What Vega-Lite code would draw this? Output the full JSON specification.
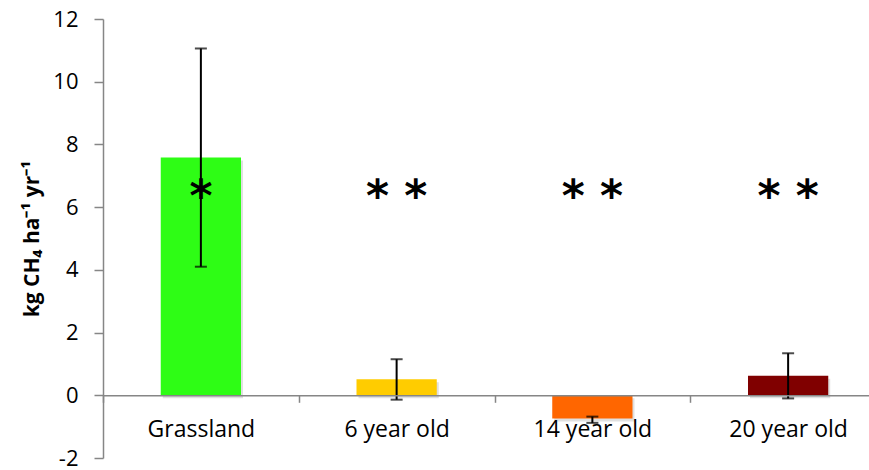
{
  "$schema": "https://vega.github.io/schema/vega-lite/v6.json",
  "autosize": {"type": "none"},
  "width": 766,
  "height": 439,
  "padding": {"left": 103, "top": 19, "right": 0, "bottom": 12},
  "background": "white",
  "config": {
    "view": {"stroke": null},
    "font": "Open Sans"
  },
  "data": {
    "values": [
      {"site": "Grassland", "flux": 7.58, "lo": 4.10, "hi": 11.06, "sig": "*"},
      {"site": "6 year old", "flux": 0.51, "lo": -0.14, "hi": 1.15, "sig": "* *"},
      {"site": "14 year old", "flux": -0.74, "lo": -0.88, "hi": -0.68, "sig": "* *"},
      {"site": "20 year old", "flux": 0.62, "lo": -0.10, "hi": 1.34, "sig": "* *"}
    ]
  },
  "encoding": {
    "x": {
      "field": "site",
      "type": "nominal",
      "sort": null,
      "scale": {"range": [0, 783], "paddingInner": 0, "paddingOuter": 0},
      "axis": {
        "title": null,
        "offset": -62.7,
        "zindex": 1,
        "tickBand": "extent",
        "labelAngle": 0,
        "labelFont": "Open Sans",
        "labelFontSize": 23,
        "labelColor": "#000000",
        "labelPadding": 16,
        "tickSize": 7,
        "tickColor": "#868686",
        "tickWidth": 1.5,
        "domainColor": "#868686",
        "domainWidth": 1.5
      }
    }
  },
  "layer": [
    {
      "mark": {"type": "bar", "width": {"band": 0.41}, "color": "#000000", "opacity": 0.12, "xOffset": 2, "yOffset": 3},
      "encoding": {
        "y": {"field": "flux", "type": "quantitative"}
      }
    },
    {
      "mark": {"type": "bar", "width": {"band": 0.41}},
      "encoding": {
        "y": {
          "field": "flux",
          "type": "quantitative",
          "scale": {"domain": [-2, 12], "nice": false, "zero": false},
          "axis": {
            "title": "kg CH₄ ha⁻¹ yr⁻¹",
            "titleFont": "Open Sans",
            "titleFontSize": 21,
            "titleFontWeight": "bold",
            "titleColor": "#000000",
            "titlePadding": 10,
            "values": [-2, 0, 2, 4, 6, 8, 10, 12],
            "labelExpr": "'' + datum.value",
            "grid": false,
            "labelFont": "Open Sans",
            "labelFontSize": 22,
            "labelColor": "#000000",
            "labelPadding": 16,
            "tickSize": 9,
            "tickColor": "#868686",
            "tickWidth": 1.5,
            "domainColor": "#868686",
            "domainWidth": 1.5
          }
        },
        "color": {
          "field": "site",
          "type": "nominal",
          "sort": null,
          "scale": {
            "domain": ["Grassland", "6 year old", "14 year old", "20 year old"],
            "range": ["#2EFD15", "#FFCC00", "#FF6600", "#800000"]
          },
          "legend": null
        }
      }
    },
    {
      "mark": {"type": "rule", "color": "#000000", "strokeWidth": 2},
      "encoding": {
        "y": {"field": "lo", "type": "quantitative"},
        "y2": {"field": "hi"}
      }
    },
    {
      "mark": {"type": "tick", "color": "#000000", "thickness": 2, "size": 12},
      "encoding": {
        "y": {"field": "lo", "type": "quantitative"}
      }
    },
    {
      "mark": {"type": "tick", "color": "#000000", "thickness": 2, "size": 12},
      "encoding": {
        "y": {"field": "hi", "type": "quantitative"}
      }
    },
    {
      "mark": {"type": "text", "font": "DejaVu Sans", "fontWeight": "bold", "fontSize": 44, "baseline": "middle", "align": "center", "color": "#000000", "dy": 8},
      "encoding": {
        "y": {"datum": 6.56},
        "text": {"field": "sig"}
      }
    }
  ]
}
